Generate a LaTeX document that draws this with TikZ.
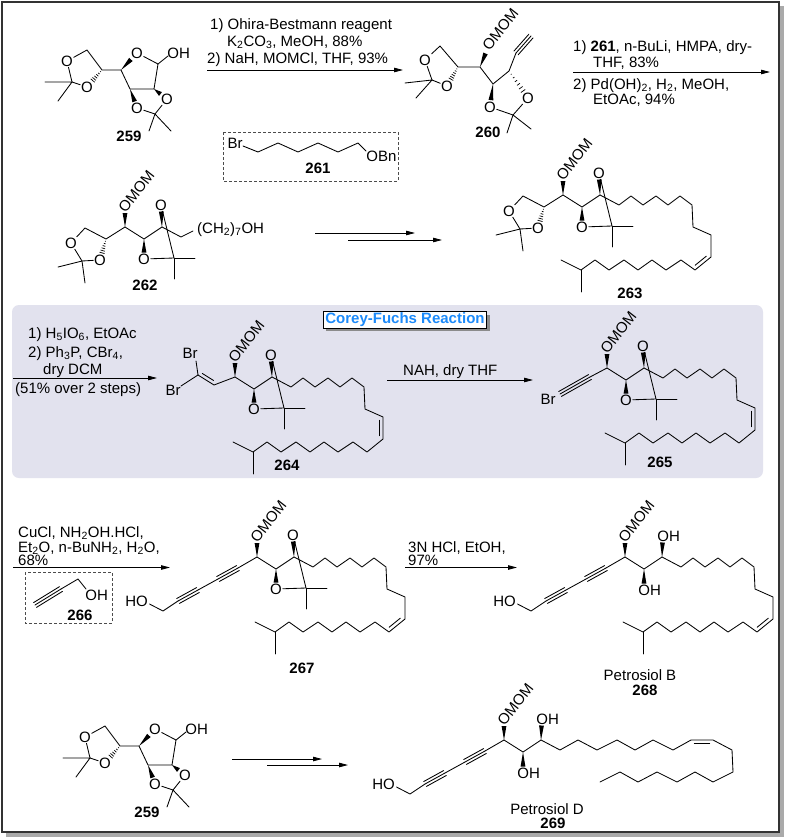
\documentclass[tikz,border=0pt]{standalone}
\usepackage{fontspec}
\setmainfont{Liberation Sans}
\usetikzlibrary{calc,arrows.meta,shadows}
\definecolor{cfbox}{RGB}{226,226,238}
\definecolor{cfblue}{RGB}{28,138,250}
\definecolor{fshadow}{RGB}{170,170,170}
\newcommand{\chemfont}{\fontsize{15}{17}\selectfont}
\newcommand{\chsub}[1]{\textsubscript{#1}}
\tikzset{
  bond/.style={line width=0.85pt, line cap=round, line join=round},
  atom/.style={inner sep=0.7pt, font=\chemfont},
  txt/.style={inner sep=0pt, font=\chemfont},
  cond/.style={anchor=base west, inner sep=0pt, font=\chemfont},
  cpd/.style={inner sep=0pt, font=\chemfont\bfseries},
  rxn/.style={line width=0.85pt, -{Triangle[length=9pt,width=4.5pt]}},
  dbox/.style={draw=black!70, dash pattern=on 3pt off 2pt, line width=0.7pt},
}
% bold wedge, narrow at #1
\newcommand{\wdg}[2]{\fill (#1) -- ($(#2)!2.4pt!90:(#1)$) -- ($(#2)!2.4pt!-90:(#1)$) -- cycle;}
% hashed wedge
\newcommand{\hsh}[2]{\foreach \hx/\hw in {0.16/0.45pt,0.33/0.9pt,0.5/1.35pt,0.67/1.8pt,0.84/2.2pt,1.0/2.6pt}{\draw[line width=0.7pt] ($(#1)!\hx!(#2)!\hw!90:(#1)$) -- ($(#1)!\hx!(#2)!\hw!-90:(#1)$);}}
\newcommand{\triplebond}[2]{\draw[bond] (#1) -- (#2); \draw[bond] ($(#1)!2.8pt!90:(#2)$) -- ($(#2)!2.8pt!-90:(#1)$); \draw[bond] ($(#1)!2.8pt!-90:(#2)$) -- ($(#2)!2.8pt!90:(#1)$);}
\newcommand{\dbl}[2]{\draw[bond] ($(#1)!0.15!(#2)!3.6pt!90:(#2)$) -- ($(#1)!0.85!(#2)!3.6pt!-90:(#1)$);}
\newcommand{\omom}[1]{%
  \coordinate (#1wm) at (0,-14);
  \wdg{#1c1}{#1wm}
  \node[rotate=52, anchor=west, inner sep=0pt, font=\chemfont] (#1om) at (-3.6,-16.4) {OMOM};
}
\newcommand{\coreA}[1]{%
  \coordinate (#1c1) at (0,0);
  \coordinate (#1c2) at (19,12);
  \coordinate (#1c3) at (37,0);
  \node[atom] (#1o2) at (19,32) {O};
  \node[atom] (#1o3) at (36,-22) {O};
  \coordinate (#1cm) at (49,31);
  \coordinate (#1w2) at (19,25.5);
  \coordinate (#1w3) at (36.3,-15.5);
  \draw[bond] (#1c1) -- (#1c2) -- (#1c3);
  \wdg{#1c2}{#1w2}
  \wdg{#1c3}{#1w3}
  \draw[bond] (#1o2) -- (#1cm) -- (#1o3);
  \draw[bond] (70,31) -- (#1cm) -- (49,52);
  \omom{#1}
}
\newcommand{\coreB}[1]{%
  \coordinate (#1c1) at (0,0);
  \coordinate (#1c2) at (19,12);
  \coordinate (#1c3) at (37,0);
  \draw[bond] (#1c1) -- (#1c2) -- (#1c3);
  \coordinate (#1w2) at (19,26.5); \wdg{#1c2}{#1w2}
  \coordinate (#1w3) at (37.5,-14.5); \wdg{#1c3}{#1w3}
  \node[txt, anchor=west] (#1oh2) at (13.2,33) {OH};
  \node[txt, anchor=west] (#1oh3) at (32.2,-21) {OH};
  \omom{#1}
}
\newcommand{\dioxL}[1]{%
  \coordinate (#1ch) at (-19,12);
  \coordinate (#1ch2) at (-40,1);
  \node[atom] (#1ot) at (-54,16) {O};
  \coordinate (#1dm) at (-43,34);
  \node[atom] (#1ob) at (-25,33) {O};
  \draw[bond] (#1c1) -- (#1ch) -- (#1ch2) -- (#1ot);
  \draw[bond] (#1ot) -- (#1dm) -- (#1ob);
  \draw[bond] (-67,40) -- (#1dm) -- (-40,56);
  \coordinate (#1hb) at ($(#1ch)!0.66!(#1ob)$);
  \hsh{#1ch}{#1hb}
}
\newcommand{\chainT}[2]{%
  \coordinate (#1d2) at (111,40); \coordinate (#1d3) at (111,62); \coordinate (#1d4) at (95,75);
  \draw[bond] (0,0) -- (19,10) -- (31,1) -- (43,10) -- (56,1) -- (68,10) -- (80,1) -- (92,10) -- (93,32) -- (#1d2) -- (#1d3) -- (#1d4) -- (81,65) -- (66,75) -- (52,65) -- (38,75) -- (24,65) -- (9,75) -- (-5,65) -- (-19,75) -- (-39,65);
  \draw[bond] (-19,75) -- (-19,97);
  \ifnum#2=0 \dbl{#1d3}{#1d2}\else\dbl{#1d4}{#1d3}\fi
}
\newcommand{\diyne}[1]{%
  \coordinate (#1ya) at (-19,11); \coordinate (#1yb) at (-39,22);
  \coordinate (#1yc) at (-59,33); \coordinate (#1yd) at (-79,44);
  \coordinate (#1yh) at (-94,54);
  \draw[bond] (#1c1) -- (#1ya);
  \triplebond{#1ya}{#1yb}
  \draw[bond] (#1yb) -- (#1yc);
  \triplebond{#1yc}{#1yd}
  \draw[bond] (#1yd) -- (#1yh) -- (-107.5,47);
  \node[txt, anchor=east] (#1ho) at (-109,44) {HO};
}
\newcommand{\sugar}[1]{%
  \node[atom] (#1ot) at (67,61) {O};
  \coordinate (#1ch2) at (87,50);
  \coordinate (#1ch) at (102,70);
  \node[atom] (#1ob) at (87,87) {O};
  \coordinate (#1cm) at (72,82);
  \coordinate (#1c4) at (121,70);
  \node[atom] (#1or) at (137,53) {O};
  \coordinate (#1f1) at (158,64);
  \coordinate (#1f2) at (154,89);
  \coordinate (#1f3) at (130,89);
  \node[atom] (#1o3) at (137,108) {O};
  \node[atom] (#1o2) at (167,99) {O};
  \coordinate (#1cb) at (155,114);
  \node[txt, anchor=west] (#1oh) at (167.2,53) {OH};
  \draw[bond] (#1ot) -- (#1ch2) -- (#1ch) -- (#1c4);
  \draw[bond] (#1ot) -- (#1cm) -- (#1ob);
  \draw[bond] (45,82) -- (#1cm) -- (58,101);
  \coordinate (#1hb) at ($(#1ch)!0.62!(#1ob)$);
  \hsh{#1ch}{#1hb}
  \coordinate (#1wr) at ($(#1c4)!0.62!(#1or)$);
  \wdg{#1c4}{#1wr}
  \draw[bond] (#1or) -- (#1f1) -- (#1f2) -- (#1f3) -- (#1c4);
  \draw[bond] (#1f1) -- (168,56);
  \coordinate (#1w3) at ($(#1f3)!0.66!(#1o3)$);
  \wdg{#1f3}{#1w3}
  \coordinate (#1w2) at ($(#1f2)!0.5!(#1o2)$);
  \wdg{#1f2}{#1w2}
  \draw[bond] (#1o3) -- (#1cb) -- (#1o2);
  \draw[bond] (149,131) -- (#1cb) -- (171,131);
  \node[cpd] (#1lbl) at (129,136) {259};
}
\begin{document}
\begin{tikzpicture}[x=1pt,y=-1pt]
\useasboundingbox (0,0) rectangle (787,838);
\fill[fshadow] (6,6) rectangle (784,837);
\draw[fill=white, line width=1.1pt, draw=black!80] (2,2) rectangle (779,832);
% Corey-Fuchs panel
\fill[cfbox, rounded corners=7pt] (12,305) rectangle (763,478);
\node[draw=black, line width=0.6pt, fill=white, inner xsep=2pt, inner ysep=1.5pt, font=\chemfont\bfseries, text=cfblue, drop shadow={shadow xshift=3pt, shadow yshift=-3pt, fill=black!45, opacity=1}] (cft) at (405,320) {Corey-Fuchs Reaction};

% ---- 259 (top)
\sugar{sa}
% ---- 259 (bottom)
\begin{scope}[shift={(18,676)}]
\sugar{sb}
\end{scope}

% ---- 260
\node[atom] (m0ot) at (425,60) {O};
\coordinate (m0ch2) at (440,46);
\coordinate (m0ch) at (458,67);
\node[atom] (m0ob) at (447,86) {O};
\coordinate (m0cm) at (432,80);
\coordinate (m0c1) at (480,67);
\coordinate (m0c2) at (493,84);
\coordinate (m0c3) at (509,71);
\node[atom] (m0o2) at (490,107) {O};
\node[atom] (m0o3) at (528,98) {O};
\coordinate (m0cb) at (513,115);
\coordinate (m0ka) at (516,53);
\coordinate (m0kb) at (531,36);
\draw[bond] (m0ot) -- (m0ch2) -- (m0ch) -- (m0c1) -- (m0c2) -- (m0c3) -- (m0ka);
\draw[bond] (m0ot) -- (m0cm) -- (m0ob);
\draw[bond] (405,83) -- (m0cm) -- (416,98);
\coordinate (m0hb) at ($(m0ch)!0.64!(m0ob)$);
\hsh{m0ch}{m0hb}
\coordinate (m0wm) at (485.5,53.5);
\wdg{m0c1}{m0wm}
\node[rotate=52, anchor=west, inner sep=0pt, font=\chemfont] (m0om) at (485.4,48.6) {OMOM};
\coordinate (m0w2) at ($(m0c2)!0.7!(m0o2)$);
\wdg{m0c2}{m0w2}
\coordinate (m0h3) at ($(m0c3)!0.74!(m0o3)$);
\hsh{m0c3}{m0h3}
\draw[bond] (m0o2) -- (m0cb) -- (m0o3);
\draw[bond] (507,133) -- (m0cb) -- (531,129);
\triplebond{m0ka}{m0kb}
\node[cpd] (l260) at (488,132) {260};

% ---- 261 box
\draw[dbox] (223,132) rectangle (398,181);
\node[txt] (br261) at (235,143) {Br};
\draw[bond] (243,146) -- (258,152) -- (278,143) -- (298,152) -- (318,143) -- (338,152) -- (358,143) -- (366,151);
\node[txt, anchor=west] (obn) at (366.2,156) {OBn};
\node[cpd] (l261) at (318,168) {261};

% ---- reaction 1
\coordinate (r1s) at (207,70); \coordinate (r1e) at (403,70);
\draw[rxn] (r1s) -- (r1e);
\node[cond] (t1a) at (210,29) {1) Ohira-Bestmann reagent};
\node[cond] (t1b) at (227,46) {K\chsub{2}CO\chsub{3}, MeOH, 88\%};
\node[cond] (t1c) at (207,63) {2) NaH, MOMCl, THF, 93\%};

% ---- reaction 2
\coordinate (r2s) at (573,72); \coordinate (r2e) at (770,72);
\draw[rxn] (r2s) -- (r2e);
\node[cond] (t2a) at (573,51) {1) \textbf{261}, n-BuLi, HMPA, dry-};
\node[cond] (t2b) at (593,67) {THF, 83\%};
\node[cond] (t2c) at (573,89) {2) Pd(OH)\chsub{2}, H\chsub{2}, MeOH,};
\node[cond] (t2d) at (593,104) {EtOAc, 94\%};

% ---- 262
\begin{scope}[shift={(125,227)}]
\coreA{m2}
\dioxL{m2}
\begin{scope}[shift={(37,0)}]
\draw[bond] (0,0) -- (19,10) -- (31,4);
\node[cond] (m2tail) at (35,6.5) {(CH\chsub{2})\chsub{7}OH};
\end{scope}
\node[cpd] (l262) at (20,58) {262};
\end{scope}

% ---- multi-step arrows (262 -> 263)
\coordinate (r3s) at (315,233); \coordinate (r3e) at (415,233);
\coordinate (r3s2) at (348,240); \coordinate (r3e2) at (442,240);
\draw[rxn] (r3s) -- (r3e);
\draw[rxn] (r3s2) -- (r3e2);

% ---- 263
\begin{scope}[shift={(563,195)}]
\coreA{m3}
\dioxL{m3}
\begin{scope}[shift={(37,0)}]
\chainT{m3}{1}
\end{scope}
\node[cpd] (l263) at (67,98) {263};
\end{scope}

% ---- Corey-Fuchs conditions
\coordinate (r4s) at (13,378); \coordinate (r4e) at (157,378);
\draw[rxn] (r4s) -- (r4e);
\node[cond] (t4a) at (28,338) {1) H\chsub{5}IO\chsub{6}, EtOAc};
\node[cond] (t4b) at (28,357) {2) Ph\chsub{3}P, CBr\chsub{4},};
\node[cond] (t4c) at (43,374) {dry DCM};
\node[cond] (t4d) at (15,393) {(51\% over 2 steps)};

% ---- 264
\begin{scope}[shift={(235,377)}]
\coreA{m4}
\coordinate (m4v1) at (-21,8);
\coordinate (m4v2) at (-37,-2);
\draw[bond] (m4c1) -- (m4v1) -- (m4v2);
\dbl{m4v2}{m4v1}
\node[txt] (m4br1) at (-45,-24) {Br};
\node[txt] (m4br2) at (-62,13) {Br};
\draw[bond] (m4v2) -- (-39,-16);
\draw[bond] (m4v2) -- (-54,9);
\begin{scope}[shift={(37,0)}]
\chainT{m4}{0}
\end{scope}
\node[cpd] (l264) at (52,88) {264};
\end{scope}

% ---- reaction 264 -> 265
\coordinate (r5s) at (387,380); \coordinate (r5e) at (533,380);
\draw[rxn] (r5s) -- (r5e);
\node[cond] (t5a) at (403,375) {NAH, dry THF};

% ---- 265
\begin{scope}[shift={(607,368)}]
\coreA{m5}
\coordinate (m5a) at (-17,9);
\coordinate (m5b) at (-47,26);
\draw[bond] (m5c1) -- (m5a);
\triplebond{m5a}{m5b}
\node[txt] (m5br) at (-59,31) {Br};
\begin{scope}[shift={(37,0)}]
\chainT{m5}{0}
\end{scope}
\node[cpd] (l265) at (53,94) {265};
\end{scope}

% ---- reaction 265 -> 267
\coordinate (r6s) at (13,567.5); \coordinate (r6e) at (170,567.5);
\draw[rxn] (r6s) -- (r6e);
\node[cond] (t6a) at (18,537) {CuCl, NH\chsub{2}OH.HCl,};
\node[cond] (t6b) at (18,552) {Et\chsub{2}O, n-BuNH\chsub{2}, H\chsub{2}O,};
\node[cond] (t6c) at (18,565) {68\%};
% 266 box
\draw[dbox] (25,572) rectangle (112,623);
\coordinate (pa) at (35,605); \coordinate (pb) at (61,589); \coordinate (pc) at (78,579);
\triplebond{pa}{pb}
\draw[bond] (pb) -- (pc) -- (86,589);
\node[txt, anchor=west] (p266oh) at (85.2,595) {OH};
\node[cpd] (l266) at (80,615) {266};

% ---- 267
\begin{scope}[shift={(257,557)}]
\coreA{m7}
\diyne{m7}
\begin{scope}[shift={(37,0)}]
\chainT{m7}{1}
\end{scope}
\node[cpd] (l267) at (45,111) {267};
\end{scope}

% ---- reaction 267 -> 268
\coordinate (r7s) at (405,567.5); \coordinate (r7e) at (517,567.5);
\draw[rxn] (r7s) -- (r7e);
\node[cond] (t7a) at (408,552) {3N HCl, EtOH,};
\node[cond] (t7b) at (408,565) {97\%};

% ---- 268
\begin{scope}[shift={(625,557)}]
\coreB{m8}
\diyne{m8}
\begin{scope}[shift={(37,0)}]
\chainT{m8}{1}
\end{scope}
\node[txt] (n268) at (15,118) {Petrosiol B};
\node[cpd] (l268) at (20,133) {268};
\end{scope}

% ---- multi-step arrows (259 -> 269)
\coordinate (r8s) at (232,759); \coordinate (r8e) at (322,759);
\coordinate (r8s2) at (267,765); \coordinate (r8e2) at (348,765);
\draw[rxn] (r8s) -- (r8e);
\draw[rxn] (r8s2) -- (r8e2);

% ---- 269
\begin{scope}[shift={(504,740)}]
\coreB{m9}
\diyne{m9}
\coordinate (m9e1) at (187,0);
\coordinate (m9e2) at (209,0);
\draw[bond] (37,0) -- (56,10) -- (74,0) -- (93,10) -- (113,0) -- (131,10) -- (149,0) -- (169,10) -- (m9e1) -- (m9e2) -- (228,10) -- (229,32) -- (209,42) -- (191,32) -- (173,42) -- (153,32) -- (134,42) -- (116,32) -- (96,42);
\dbl{m9e2}{m9e1}
\node[txt] (n269) at (43,69) {Petrosiol D};
\node[cpd] (l269) at (49,83) {269};
\end{scope}
\end{tikzpicture}
\end{document}
